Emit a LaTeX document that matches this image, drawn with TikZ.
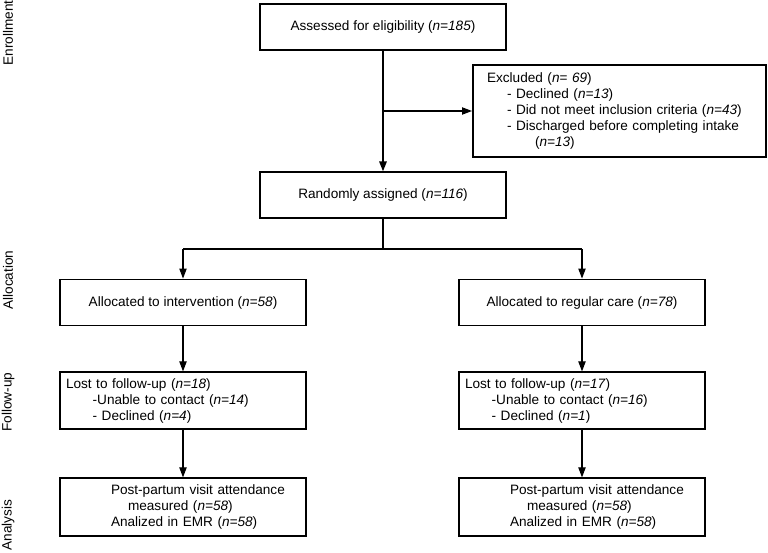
\documentclass[tikz,border=0pt]{standalone}
\usepackage{fontspec}
\setmainfont{Liberation Sans}
\usetikzlibrary{arrows.meta}
\begin{document}
\begin{tikzpicture}[x=0.75pt,y=-0.75pt,
  every node/.style={font=\fontsize{10.2}{12}\selectfont},
  box/.style={draw, line width=0.9pt, minimum width=184.5pt, inner sep=0pt},
  lbox/.style={box, align=left, inner xsep=4.5pt, text width=175.5pt},
  sidelabel/.style={rotate=90, font=\fontsize{10.2}{12}\selectfont},
  arr/.style={-{Triangle[length=7.5pt,width=5.5pt]}, line width=0.8pt},
  thickarr/.style={-{Triangle[length=7.5pt,width=5.5pt]}, line width=1.5pt}]
\useasboundingbox (0,0) rectangle (768,553);

% side labels
\node[sidelabel] (lenr) at (8,33) {Enrollment};
\node[sidelabel] (lall) at (8,280) {Allocation};
\node[sidelabel] (lfol) at (8,402) {Follow-up};
\node[sidelabel] (lana) at (8,525) {Analysis};

% boxes
\node[box, minimum height=34.5pt] (assess) at (383,27) {Assessed for eligibility (\textit{n=185})};
\node[draw, line width=1.5pt, minimum width=219.75pt, minimum height=69pt, inner sep=0pt,
      align=left, inner xsep=10.5pt, text width=198.75pt] (excl) at (619.5,111)
  {Excluded (\textit{n}= \textit{69})\\
   \hspace*{15pt}- Declined (\textit{n=13})\\
   \hspace*{15pt}- Did not meet inclusion criteria (\textit{n=43})\\
   \hspace*{15pt}- Discharged before completing intake\\
   \hspace*{36pt}(\textit{n=13})};
\node[box, minimum height=34.5pt] (rand) at (383,195) {Randomly assigned (\textit{n=116})};

\node[box, minimum height=35pt] (allocL) at (183,302.5) {Allocated to intervention (\textit{n=58})};
\node[box, minimum height=35pt] (allocR) at (582,302.5) {Allocated to regular care (\textit{n=78})};

\node[lbox, minimum height=42.75pt] (lostL) at (183,400.5)
  {Lost to follow-up (\textit{n=18})\\
   \hspace*{20pt}-Unable to contact (\textit{n=14})\\
   \hspace*{20pt}- Declined (\textit{n=4})};
\node[lbox, minimum height=42.75pt] (lostR) at (582,400.5)
  {Lost to follow-up (\textit{n=17})\\
   \hspace*{20pt}-Unable to contact (\textit{n=16})\\
   \hspace*{20pt}- Declined (\textit{n=1})};

\node[lbox, minimum height=43.5pt] (anaL) at (183,507)
  {\hspace*{33.75pt}Post-partum visit attendance\\
   \hspace*{46.5pt}measured (\textit{n=58})\\
   \hspace*{33.75pt}Analized in EMR (\textit{n=58})};
\node[lbox, minimum height=43.5pt] (anaR) at (582,507)
  {\hspace*{33.75pt}Post-partum visit attendance\\
   \hspace*{46.5pt}measured (\textit{n=58})\\
   \hspace*{33.75pt}Analized in EMR (\textit{n=58})};

% connectors
\draw[thickarr] (assess.south) -- (rand.north);
\coordinate (exfork) at (assess.south |- excl.west);
\draw[arr] (exfork) -- (excl.west);

\coordinate (br) at (383,249);
\draw[line width=1.5pt] (rand.south) -- (br);
\draw[line width=1.5pt] (allocL.north |- br) -- (allocR.north |- br);
\draw[arr] (allocL.north |- br) -- (allocL.north);
\draw[arr] (allocR.north |- br) -- (allocR.north);

\draw[arr] (allocL.south) -- (lostL.north);
\draw[arr] (allocR.south) -- (lostR.north);
\draw[arr] (lostL.south) -- (anaL.north);
\draw[arr] (lostR.south) -- (anaR.north);
\end{tikzpicture}
\end{document}
